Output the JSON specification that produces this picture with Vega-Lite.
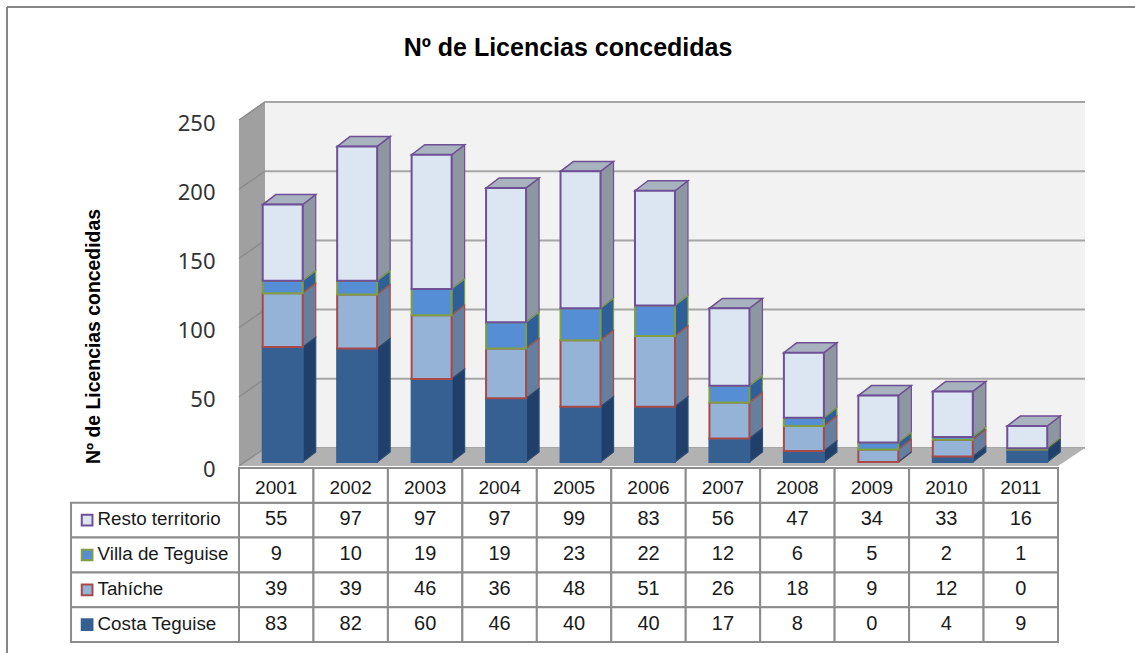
{
"$schema":"https://vega.github.io/schema/vega-lite/v6.json",
"autosize":{"type":"none"},
"padding":{"left":7,"top":7,"right":0,"bottom":0},
"width":1128,"height":646,
"background":"white",
"view":{"stroke":null,"fill":"white"},
"title":{"text":"Nº de Licencias concedidas","anchor":"middle","frame":"group","dx":-3,"offset":-55,"font":"Liberation Sans","fontSize":25,"fontWeight":"bold","color":"#000000"},
"data":{"values":[
{"year":2001,"series":"Resto territorio","value":55},{"year":2001,"series":"Villa de Teguise","value":9},{"year":2001,"series":"Tahíche","value":39},{"year":2001,"series":"Costa Teguise","value":83},
{"year":2002,"series":"Resto territorio","value":97},{"year":2002,"series":"Villa de Teguise","value":10},{"year":2002,"series":"Tahíche","value":39},{"year":2002,"series":"Costa Teguise","value":82},
{"year":2003,"series":"Resto territorio","value":97},{"year":2003,"series":"Villa de Teguise","value":19},{"year":2003,"series":"Tahíche","value":46},{"year":2003,"series":"Costa Teguise","value":60},
{"year":2004,"series":"Resto territorio","value":97},{"year":2004,"series":"Villa de Teguise","value":19},{"year":2004,"series":"Tahíche","value":36},{"year":2004,"series":"Costa Teguise","value":46},
{"year":2005,"series":"Resto territorio","value":99},{"year":2005,"series":"Villa de Teguise","value":23},{"year":2005,"series":"Tahíche","value":48},{"year":2005,"series":"Costa Teguise","value":40},
{"year":2006,"series":"Resto territorio","value":83},{"year":2006,"series":"Villa de Teguise","value":22},{"year":2006,"series":"Tahíche","value":51},{"year":2006,"series":"Costa Teguise","value":40},
{"year":2007,"series":"Resto territorio","value":56},{"year":2007,"series":"Villa de Teguise","value":12},{"year":2007,"series":"Tahíche","value":26},{"year":2007,"series":"Costa Teguise","value":17},
{"year":2008,"series":"Resto territorio","value":47},{"year":2008,"series":"Villa de Teguise","value":6},{"year":2008,"series":"Tahíche","value":18},{"year":2008,"series":"Costa Teguise","value":8},
{"year":2009,"series":"Resto territorio","value":34},{"year":2009,"series":"Villa de Teguise","value":5},{"year":2009,"series":"Tahíche","value":9},{"year":2009,"series":"Costa Teguise","value":0},
{"year":2010,"series":"Resto territorio","value":33},{"year":2010,"series":"Villa de Teguise","value":2},{"year":2010,"series":"Tahíche","value":12},{"year":2010,"series":"Costa Teguise","value":4},
{"year":2011,"series":"Resto territorio","value":16},{"year":2011,"series":"Villa de Teguise","value":1},{"year":2011,"series":"Tahíche","value":0},{"year":2011,"series":"Costa Teguise","value":9}
]},
"transform":[
{"calculate":"indexof(['Costa Teguise','Tahíche','Villa de Teguise','Resto territorio'],datum.series)","as":"ord"},
{"stack":"value","groupby":["year"],"sort":[{"field":"ord","order":"ascending"}],"as":["y0","y1"]},
{"calculate":"[0,1]","as":"k"},
{"flatten":["k"]},
{"calculate":"datum.year-0.1815","as":"xl"},
{"calculate":"datum.year+0.3555","as":"xr"},
{"calculate":"datum.y0+2.9","as":"b0"},
{"calculate":"datum.y1+2.9","as":"b1"},
{"calculate":"datum.xr+datum.k*0.175","as":"sx"},
{"calculate":"datum.xl+datum.k*0.175","as":"tx"},
{"calculate":"datum.b0+datum.k*7.2","as":"sy0"},
{"calculate":"datum.b1+datum.k*7.2","as":"sy1"},
{"calculate":"datum.year-0.5","as":"cl"},
{"calculate":"datum.year+0.5","as":"cr"}
],
"resolve":{"scale":{"y":"independent","fill":"independent","stroke":"independent"}},
"layer":[
{"data":{"values":[{"w":1}]},"transform":[],"mark":{"type":"rule","stroke":"#868686","strokeWidth":2},
 "encoding":{"x":{"datum":1997.384,"type":"quantitative","scale":{"domain":[2000.5,2011.5],"range":[232,1051]},"axis":null}}},
{"data":{"values":[{"w":1}]},"transform":[],"mark":{"type":"rule","stroke":"#868686","strokeWidth":2},
 "encoding":{"y":{"datum":331.6,"type":"quantitative","scale":{"domain":[0,250],"range":[459,113]},"axis":null}}},
{"data":{"values":[{"w":1}]},"transform":[],"mark":{"type":"rect","fill":"#f2f2f2"},
 "encoding":{"x":{"datum":2000.849,"type":"quantitative","scale":{"domain":[2000.5,2011.5],"range":[232,1051]},"axis":null},"x2":{"datum":2011.863},
 "y":{"datum":13,"type":"quantitative","scale":{"domain":[0,250],"range":[459,113]},"axis":null},"y2":{"datum":263.7}}},
{"data":{"values":[{"v":0},{"v":50},{"v":100},{"v":150},{"v":200},{"v":250}]},"transform":[{"calculate":"datum.v+13","as":"vb"}],"mark":{"type":"rule","stroke":"#a6a6a6","strokeWidth":2},
 "encoding":{"x":{"datum":2000.849,"type":"quantitative","scale":{"domain":[2000.5,2011.5],"range":[232,1051]},"axis":null},"x2":{"datum":2011.863},
 "y":{"field":"vb","type":"quantitative","scale":{"domain":[0,250],"range":[459,113]},"axis":null}}},
{"data":{"values":[{"k":0},{"k":1}]},"transform":[{"calculate":"datum.k*13","as":"a"},{"calculate":"250+datum.k*13.7","as":"b"},{"calculate":"2000.5+datum.k*0.349","as":"x"}],"mark":{"type":"area","fill":"#a0a0a0"},
 "encoding":{"x":{"field":"x","type":"quantitative","scale":{"domain":[2000.5,2011.5],"range":[232,1051]},"axis":null},
 "y":{"field":"a","type":"quantitative","stack":null,"scale":{"domain":[0,250],"range":[459,113]},"axis":null},"y2":{"field":"b"}}},
{"data":{"values":[{"k":0},{"k":1}]},"transform":[{"calculate":"datum.k*13","as":"a"},{"calculate":"2000.5+datum.k*0.349","as":"x"},{"calculate":"2011.5+datum.k*0.363","as":"x2"}],"mark":{"type":"area","fill":"#b2b2b2","orient":"horizontal"},
 "encoding":{"y":{"field":"a","type":"quantitative","scale":{"domain":[0,250],"range":[459,113]},"axis":null},
 "x":{"field":"x","type":"quantitative","stack":null,"scale":{"domain":[2000.5,2011.5],"range":[232,1051]},"axis":null},"x2":{"field":"x2"}}},
{"data":{"values":[{"v":0},{"v":50},{"v":100},{"v":150},{"v":200},{"v":250}]},"transform":[{"calculate":"datum.v+13","as":"vb"}],"mark":{"type":"rule","stroke":"#8c8c8c","strokeWidth":1.5},
 "encoding":{"x":{"datum":2000.5,"type":"quantitative","scale":{"domain":[2000.5,2011.5],"range":[232,1051]},"axis":null},"x2":{"datum":2000.849},
 "y":{"field":"v","type":"quantitative","scale":{"domain":[0,250],"range":[459,113]},
  "axis":{"orient":"left","values":[0,50,100,150,200,250],"offset":-208,"ticks":false,"domain":false,"grid":false,"labelPadding":0,"labelFont":"Noto Sans","labelFontSize":22,"labelColor":"#333333","labelOffset":3,
  "title":"Nº de Licencias concedidas","titleFont":"Liberation Sans","titleFontSize":19.4,"titleFontWeight":"bold","titleColor":"#000000","titleX":-122,"titleY":329,"titleAngle":-90,"titleAlign":"center","titleBaseline":"middle"}},
 "y2":{"field":"vb"}}},

{"mark":{"type":"area","strokeWidth":1.2},"encoding":{
 "x":{"field":"sx","type":"quantitative","scale":{"domain":[2000.5,2011.5],"range":[232,1051]},"axis":null},
 "y":{"field":"sy0","type":"quantitative","stack":null,"scale":{"domain":[0,250],"range":[459,113]},"axis":null},"y2":{"field":"sy1"},
 "detail":{"field":"year"},
 "fill":{"field":"series","scale":{"domain":["Resto territorio","Villa de Teguise","Tahíche","Costa Teguise"],"range":["#8d96a1","#2f5f98","#667f9f","#20406b"]},"legend":null},
 "stroke":{"field":"series","scale":{"domain":["Resto territorio","Villa de Teguise","Tahíche","Costa Teguise"],"range":["#6f4f95","#7f9f42","#a84a48","#2c4d75"]},"legend":null}}},
{"transform":[{"filter":"datum.ord==3"}],"mark":{"type":"area","orient":"horizontal","fill":"#a9b2bf","stroke":"#6f4f95","strokeWidth":1.5},"encoding":{
 "y":{"field":"sy1","type":"quantitative","scale":{"domain":[0,250],"range":[459,113]},"axis":null},
 "x":{"field":"tx","type":"quantitative","stack":null,"scale":{"domain":[2000.5,2011.5],"range":[232,1051]},"axis":null},"x2":{"field":"sx"},
 "detail":{"field":"year"}}},
{"transform":[{"filter":"datum.k==0"}],"mark":{"type":"rect","strokeWidth":2},"encoding":{
 "x":{"field":"xl","type":"quantitative","scale":{"domain":[2000.5,2011.5],"range":[232,1051]},"axis":null},"x2":{"field":"xr"},
 "y":{"field":"b0","type":"quantitative","scale":{"domain":[0,250],"range":[459,113]},"axis":null},"y2":{"field":"b1"},
 "order":{"field":"ord"},
 "fill":{"field":"series","scale":{"domain":["Resto territorio","Villa de Teguise","Tahíche","Costa Teguise"],"range":["#dce6f2","#558ed5","#95b3d7","#376092"]},"legend":null},
 "stroke":{"field":"series","scale":{"domain":["Resto territorio","Villa de Teguise","Tahíche","Costa Teguise"],"range":["#6f4f95","#7f9f42","#a84a48","#376092"]},"legend":null}}},

{"transform":[{"filter":"datum.k==0"}],"mark":{"type":"rect","fill":"white","stroke":"#8c8c8c","strokeWidth":2},"encoding":{
 "x":{"field":"cl","type":"quantitative","scale":{"domain":[2000.5,2011.5],"range":[232,1051]},"axis":null},"x2":{"field":"cr"},
 "y":{"field":"series","type":"nominal","scale":{"type":"band","domain":["hdr","Resto territorio","Villa de Teguise","Tahíche","Costa Teguise"],"range":[461,635],"paddingInner":0,"paddingOuter":0},"axis":null}}},
{"transform":[{"filter":"datum.k==0 && datum.ord==0"}],"mark":{"type":"rect","fill":"white","stroke":"#8c8c8c","strokeWidth":2},"encoding":{
 "x":{"field":"cl","type":"quantitative","scale":{"domain":[2000.5,2011.5],"range":[232,1051]},"axis":null},"x2":{"field":"cr"},
 "y":{"datum":"hdr","type":"nominal","scale":{"type":"band","domain":["hdr","Resto territorio","Villa de Teguise","Tahíche","Costa Teguise"],"range":[461,635],"paddingInner":0,"paddingOuter":0},"axis":null}}},
{"transform":[{"filter":"datum.k==0 && datum.year==2001"}],"mark":{"type":"rect","fill":"white","stroke":"#8c8c8c","strokeWidth":2},"encoding":{
 "x":{"datum":1998.244,"type":"quantitative","scale":{"domain":[2000.5,2011.5],"range":[232,1051]},"axis":null},"x2":{"datum":2000.5},
 "y":{"field":"series","type":"nominal","scale":{"type":"band","domain":["hdr","Resto territorio","Villa de Teguise","Tahíche","Costa Teguise"],"range":[461,635],"paddingInner":0,"paddingOuter":0},"axis":null}}},
{"transform":[{"filter":"datum.k==0"}],"mark":{"type":"text","font":"Liberation Sans","fontSize":20,"fill":"#1a1a1a","dy":-1},"encoding":{
 "x":{"field":"year","type":"quantitative","scale":{"domain":[2000.5,2011.5],"range":[232,1051]},"axis":null},
 "y":{"field":"series","type":"nominal","scale":{"type":"band","domain":["hdr","Resto territorio","Villa de Teguise","Tahíche","Costa Teguise"],"range":[461,635],"paddingInner":0,"paddingOuter":0},"axis":null},
 "text":{"field":"value","type":"quantitative"}}},
{"transform":[{"filter":"datum.k==0 && datum.ord==0"}],"mark":{"type":"text","font":"Liberation Sans","fontSize":19,"fill":"#1a1a1a","dy":3},"encoding":{
 "x":{"field":"year","type":"quantitative","scale":{"domain":[2000.5,2011.5],"range":[232,1051]},"axis":null},
 "y":{"datum":"hdr","type":"nominal","scale":{"type":"band","domain":["hdr","Resto territorio","Villa de Teguise","Tahíche","Costa Teguise"],"range":[461,635],"paddingInner":0,"paddingOuter":0},"axis":null},
 "text":{"field":"year","type":"quantitative","format":"d"}}},
{"transform":[{"filter":"datum.k==0 && datum.year==2001"}],"mark":{"type":"text","font":"Liberation Sans","fontSize":18.8,"fill":"#1a1a1a","align":"left","dy":-1},"encoding":{
 "x":{"datum":1998.6,"type":"quantitative","scale":{"domain":[2000.5,2011.5],"range":[232,1051]},"axis":null},
 "y":{"field":"series","type":"nominal","scale":{"type":"band","domain":["hdr","Resto territorio","Villa de Teguise","Tahíche","Costa Teguise"],"range":[461,635],"paddingInner":0,"paddingOuter":0},"axis":null},
 "text":{"field":"series"}}},
{"transform":[{"filter":"datum.k==0 && datum.year==2001"}],"mark":{"type":"point","shape":"square","filled":true,"size":115,"strokeWidth":2,"opacity":1},"encoding":{
 "x":{"datum":1998.46,"type":"quantitative","scale":{"domain":[2000.5,2011.5],"range":[232,1051]},"axis":null},
 "y":{"field":"series","type":"nominal","scale":{"type":"band","domain":["hdr","Resto territorio","Villa de Teguise","Tahíche","Costa Teguise"],"range":[461,635],"paddingInner":0,"paddingOuter":0},"axis":null},
 "fill":{"field":"series","scale":{"domain":["Resto territorio","Villa de Teguise","Tahíche","Costa Teguise"],"range":["#dce6f2","#558ed5","#95b3d7","#376092"]},"legend":null},
 "stroke":{"field":"series","scale":{"domain":["Resto territorio","Villa de Teguise","Tahíche","Costa Teguise"],"range":["#6f4f95","#7f9f42","#a84a48","#376092"]},"legend":null}}}
]
}
